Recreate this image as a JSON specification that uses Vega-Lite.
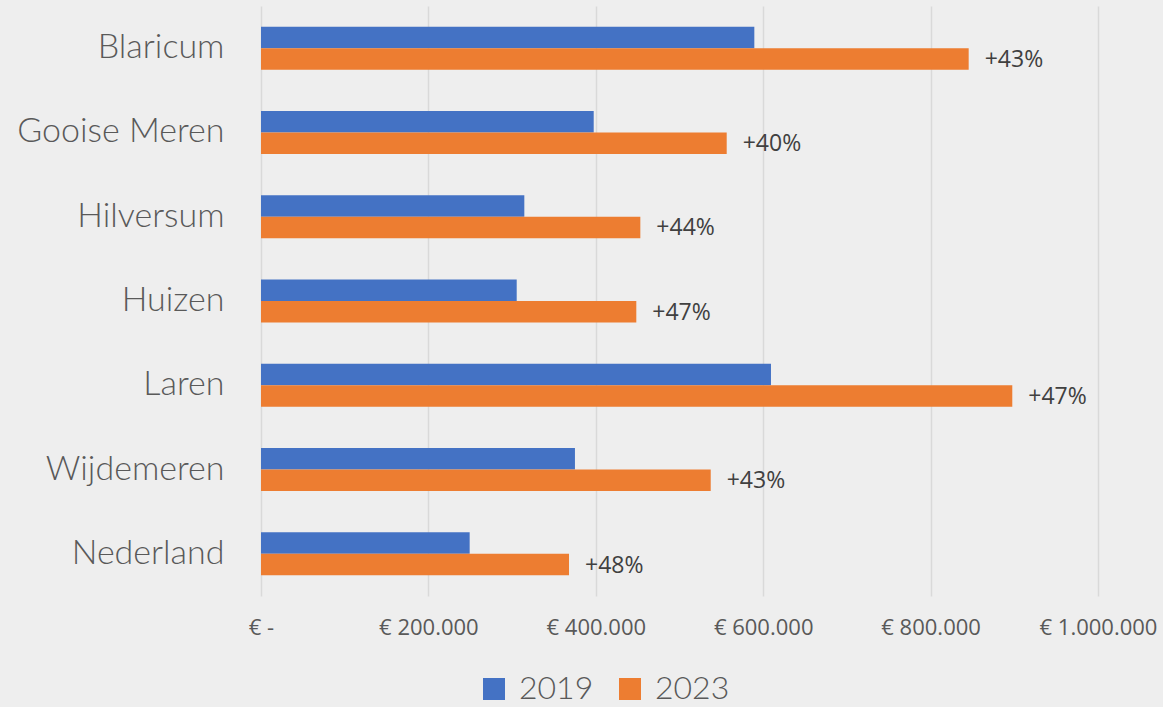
{
  "$schema": "https://vega.github.io/schema/vega-lite/v6.json",
  "autosize": "none",
  "width": 837,
  "height": 590,
  "padding": {"left": 261, "top": 6, "right": 65, "bottom": 111},
  "background": "#eeeeee",
  "config": {"view": {"stroke": null}, "font": "Lato"},
  "data": {
    "values": [
      {"gemeente": "Blaricum", "jaar": "2019", "waarde": 589400, "pct": null},
      {"gemeente": "Blaricum", "jaar": "2023", "waarde": 845500, "pct": "+43%"},
      {"gemeente": "Gooise Meren", "jaar": "2019", "waarde": 397500, "pct": null},
      {"gemeente": "Gooise Meren", "jaar": "2023", "waarde": 556400, "pct": "+40%"},
      {"gemeente": "Hilversum", "jaar": "2019", "waarde": 314600, "pct": null},
      {"gemeente": "Hilversum", "jaar": "2023", "waarde": 453200, "pct": "+44%"},
      {"gemeente": "Huizen", "jaar": "2019", "waarde": 305500, "pct": null},
      {"gemeente": "Huizen", "jaar": "2023", "waarde": 448400, "pct": "+47%"},
      {"gemeente": "Laren", "jaar": "2019", "waarde": 609300, "pct": null},
      {"gemeente": "Laren", "jaar": "2023", "waarde": 897600, "pct": "+47%"},
      {"gemeente": "Wijdemeren", "jaar": "2019", "waarde": 375100, "pct": null},
      {"gemeente": "Wijdemeren", "jaar": "2023", "waarde": 537300, "pct": "+43%"},
      {"gemeente": "Nederland", "jaar": "2019", "waarde": 249300, "pct": null},
      {"gemeente": "Nederland", "jaar": "2023", "waarde": 368000, "pct": "+48%"}
    ]
  },
  "encoding": {
    "y": {
      "field": "gemeente",
      "type": "nominal",
      "sort": ["Blaricum", "Gooise Meren", "Hilversum", "Huizen", "Laren", "Wijdemeren", "Nederland"],
      "scale": {"paddingInner": 0.49, "paddingOuter": 0.245},
      "axis": {
        "title": null,
        "domain": false,
        "ticks": false,
        "grid": false,
        "labelFontSize": 34,
        "labelFontWeight": 300,
        "labelColor": "#595959",
        "labelPadding": 37,
        "labelLimit": 400
      }
    },
    "yOffset": {"field": "jaar", "type": "nominal", "sort": ["2019", "2023"]},
    "x": {
      "field": "waarde",
      "type": "quantitative",
      "scale": {"domain": [0, 1000000], "nice": false},
      "axis": {
        "title": null,
        "values": [0, 200000, 400000, 600000, 800000, 1000000],
        "labelExpr": "datum.value == 0 ? '€ -' : '€ ' + replace(format(datum.value, ','), regexp(',', 'g'), '.')",
        "domain": false,
        "ticks": false,
        "grid": true,
        "gridColor": "#d9d9d9",
        "gridWidth": 1.5,
        "labelFont": "Open Sans",
        "labelFontSize": 22,
        "labelColor": "#595959",
        "labelPadding": 21,
        "labelFlush": false
      }
    }
  },
  "layer": [
    {
      "mark": {"type": "bar"},
      "encoding": {
        "color": {
          "field": "jaar",
          "type": "nominal",
          "scale": {"domain": ["2019", "2023"], "range": ["#4472C4", "#ED7D31"]},
          "legend": {
            "title": null,
            "orient": "none",
            "direction": "horizontal",
            "legendX": 217,
            "legendY": 667,
            "symbolType": "square",
            "symbolSize": 484,
            "symbolStrokeWidth": 0,
            "labelFontSize": 32,
            "labelFontWeight": 300,
            "labelColor": "#595959",
            "labelOffset": 9,
            "columnPadding": 20
          }
        }
      }
    },
    {
      "transform": [{"filter": "datum.pct != null"}],
      "mark": {"type": "text", "align": "left", "baseline": "middle", "dx": 16, "dy": 1, "font": "Open Sans", "fontSize": 23, "color": "#404040"},
      "encoding": {"text": {"field": "pct"}}
    }
  ]
}
